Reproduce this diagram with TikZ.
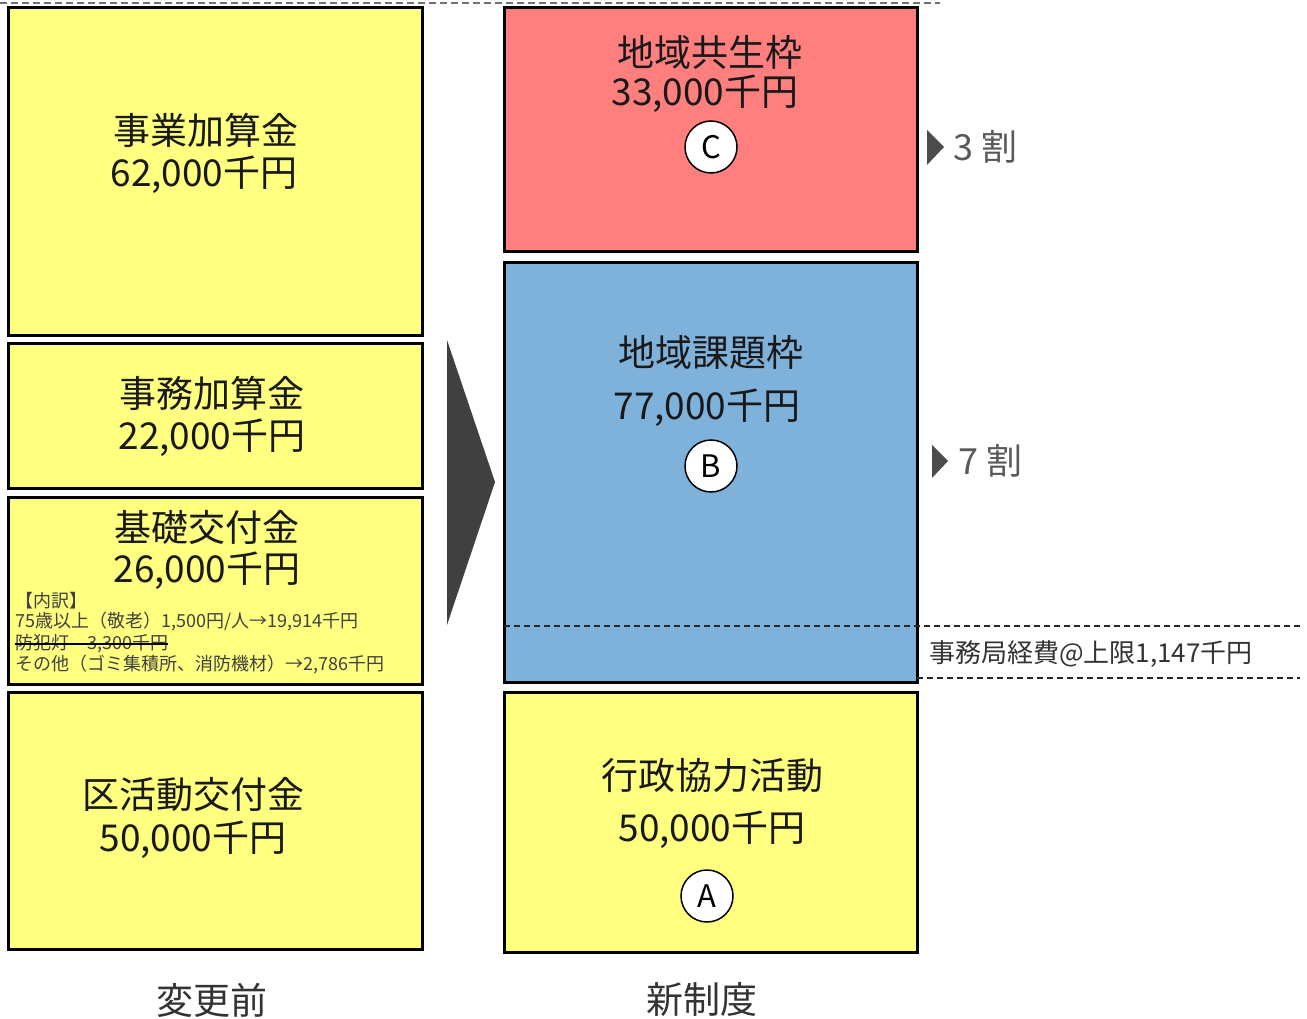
\documentclass[tikz,border=0pt]{standalone}
\usepackage{fontspec}
\setmainfont{Noto Sans CJK JP}
\begin{document}
\begin{tikzpicture}[x=1pt,y=-1pt,
  box/.style={draw=black,line width=3pt},
  big/.style={font=\fontsize{37}{39}\selectfont,text=black!90,inner sep=0pt},
  small/.style={font=\fontsize{18}{19}\selectfont,text=black!75,inner sep=0pt,anchor=west},
  letmark/.style={draw=black,line width=1.5pt,fill=white,circle,minimum size=52pt,inner sep=0pt,font=\fontsize{31}{33}\selectfont},
  ratio/.style={font=\fontsize{36}{38}\selectfont,text=black!65,inner sep=0pt,anchor=west},
  tri/.style={fill=black!70,draw=none},
  captxt/.style={font=\fontsize{37}{39}\selectfont,text=black!80,inner sep=0pt}]
\useasboundingbox (0,0) rectangle (1307,1019);
\definecolor{ylw}{RGB}{255,255,128}
\definecolor{rd}{RGB}{255,127,127}
\definecolor{bl}{RGB}{127,178,219}
% top dashed line
\draw[black!55,line width=1.5pt,dash pattern=on 7pt off 4pt] (0,3) coordinate (tl) -- (940,3) coordinate (tr);
% left column
\draw[box,fill=ylw] (8,8) rectangle (422,335);
\draw[box,fill=ylw] (8,343) rectangle (422,488);
\draw[box,fill=ylw] (8,497) rectangle (422,684);
\draw[box,fill=ylw] (8,692) rectangle (422,949);
% right column
\draw[box,fill=rd] (504,8) rectangle (917,252);
\draw[box,fill=bl] (504,263) rectangle (917,682);
\draw[box,fill=ylw] (504,692) rectangle (917,952);
% chevron
\fill[black!75] (447,340) -- (495,482) -- (447,625) -- cycle;
% dashed lines
\draw[black!85,line width=1.2pt,dash pattern=on 6pt off 4pt] (504,626) coordinate (d1a) -- (1300,626) coordinate (d1b);
\draw[black!85,line width=1.2pt,dash pattern=on 6pt off 4pt] (917,678) coordinate (d2a) -- (1300,678) coordinate (d2b);
% left texts
\node[big] (t1a) at (206,130) {事業加算金};
\node[big] (t1b) at (204,175) {62,000千円};
\node[big] (t2a) at (212,393) {事務加算金};
\node[big] (t2b) at (212,438) {22,000千円};
\node[big] (t3a) at (207,527) {基礎交付金};
\node[big] (t3b) at (207,571) {26,000千円};
\node[small] (s1) at (15,601) {【内訳】};
\node[small] (s2) at (15,622) {75歳以上（敬老）1,500円/人→19,914千円};
\node[small] (s3) at (15,644) {防犯灯　3,300千円};
\draw[black,line width=1.2pt] (s3.west) -- (s3.east);
\node[small] (s4) at (15,665) {その他（ゴミ集積所、消防機材）→2,786千円};
\node[big] (t4a) at (193,795) {区活動交付金};
\node[big] (t4b) at (193,840) {50,000千円};
% right texts
\node[big] (r1a) at (710,52) {地域共生枠};
\node[big] (r1b) at (705,94) {33,000千円};
\node[letmark] (mc) at (711,147) {C};
\node[big] (r2a) at (711,352) {地域課題枠};
\node[big] (r2b) at (707,408) {77,000千円};
\node[letmark] (mb) at (711,466) {B};
\node[big] (r3a) at (712,776) {行政協力活動};
\node[big] (r3b) at (712,830) {50,000千円};
\node[letmark] (ma) at (707,896) {A};
% ratios
\fill[tri] (927,130) -- (944,147) -- (927,165) -- cycle;
\node[ratio] (p3) at (953,147) {3 割};
\fill[tri] (932,445) -- (948,461) -- (932,478) -- cycle;
\node[ratio] (p7) at (958,461) {7 割};
\node[font=\fontsize{26}{28}\selectfont,text=black!80,inner sep=0pt,anchor=west] (jim) at (929,654) {事務局経費@上限1,147千円};
% captions
\node[captxt] (c1) at (212,1000) {変更前};
\node[captxt] (c2) at (702,1000) {新制度};
\end{tikzpicture}
\end{document}
